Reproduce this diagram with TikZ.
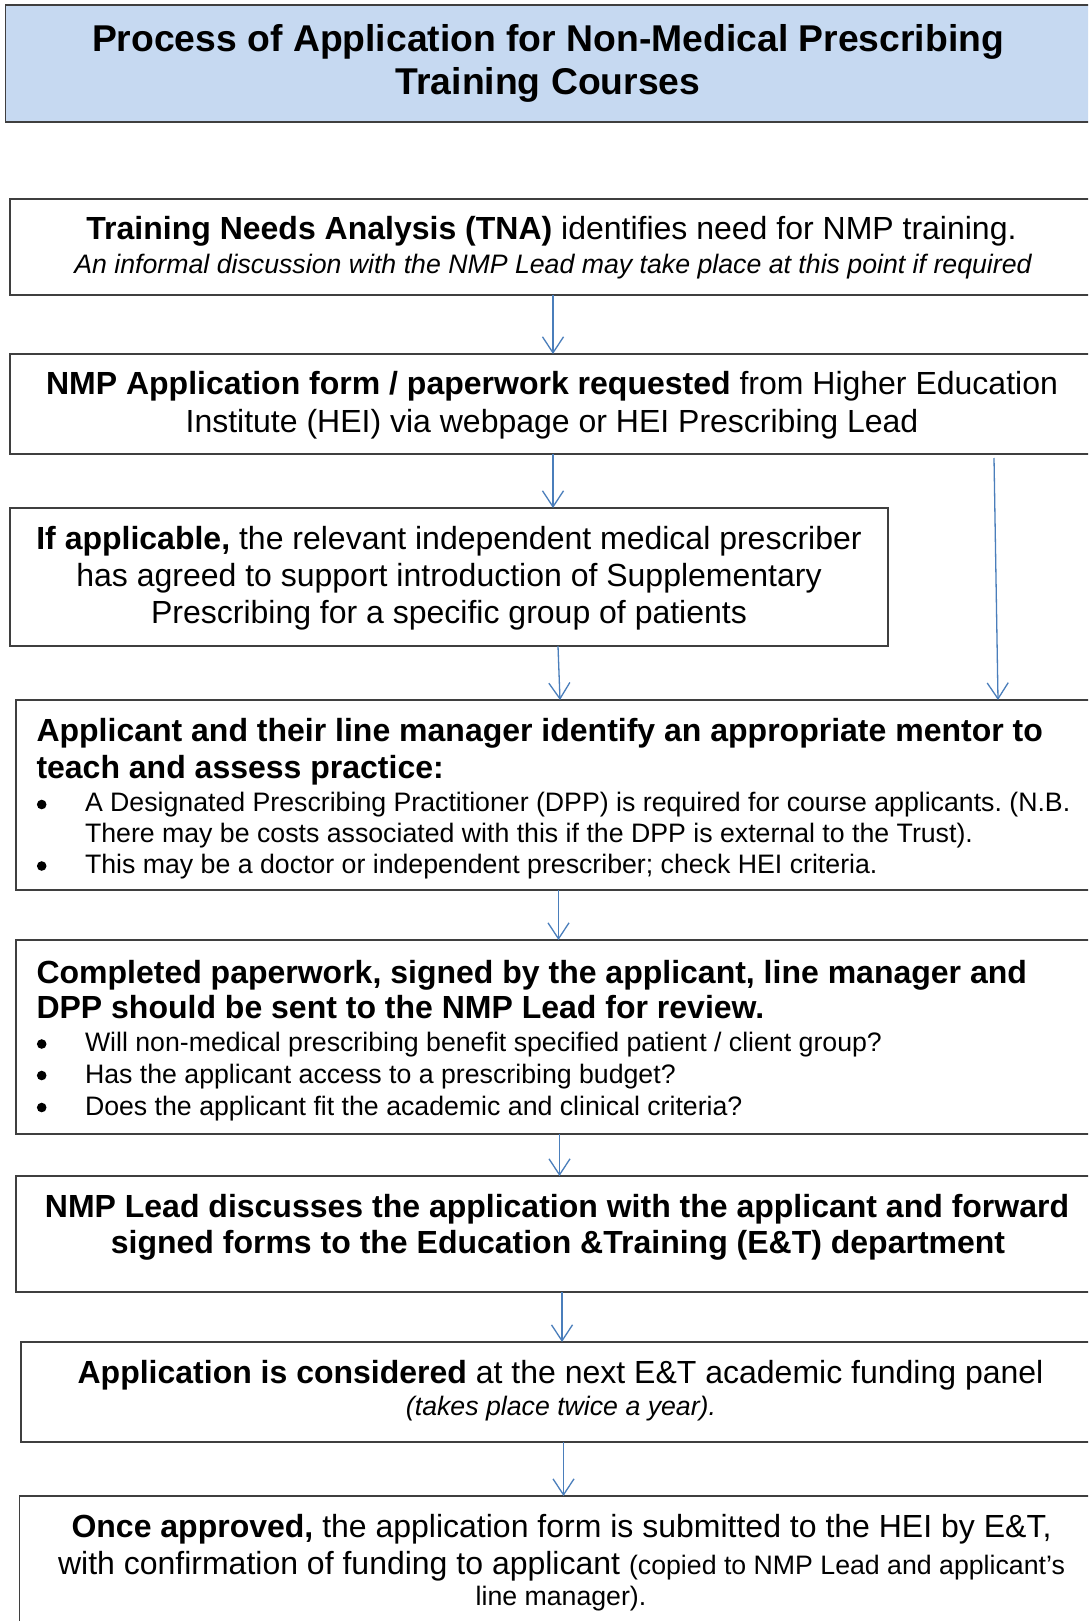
\documentclass[tikz,border=0pt]{standalone}
\usepackage{fontspec}
\setmainfont{Liberation Sans}
\usetikzlibrary{arrows.meta}
\definecolor{frame}{HTML}{3F3F3F}
\definecolor{headfill}{HTML}{C6D9F1}
\definecolor{flow}{HTML}{4A7EBB}
\frenchspacing
\begin{document}
\begin{tikzpicture}[x=1pt,y=-1pt,
  box/.style={draw=frame, line width=1.6pt, anchor=north west, inner sep=0pt, outer sep=0pt},
  arr/.style={draw=flow, line width=1.3pt,
    -{Straight Barb[length=16pt,width=21pt,line width=1.3pt]}},
  titlefont/.style={font=\fontsize{37.3}{42}\selectfont\bfseries},
  big/.style={font=\fontsize{32}{36.5}\selectfont},
  bigbold/.style={font=\fontsize{32}{36.5}\selectfont\bfseries},
  small/.style={font=\fontsize{26.7}{31}\selectfont},
  line/.style={anchor=base, inner sep=0pt, outer sep=0pt},
  lline/.style={anchor=base west, inner sep=0pt, outer sep=0pt},
  dot/.style={circle, fill=black, inner sep=0pt, minimum size=9.6pt},
]
\useasboundingbox (0,0) rectangle (1088,1621);
\fill[white] (0,0) rectangle (1088,1621);
\clip (0,0) rectangle (1088,1621);

% ---------- boxes ----------
\node[box, fill=headfill, minimum width=1094.5, minimum height=116.7] (title) at (5.5,5.3) {};
\node[box, minimum width=1090.3, minimum height=96]  (tna)      at (9.7,199) {};
\node[box, minimum width=1090,   minimum height=100] (nmp)      at (10,354) {};
\node[box, minimum width=878,    minimum height=138] (ifapp)    at (10,508) {};
\node[box, minimum width=1084.3, minimum height=190] (mentor)   at (15.7,700) {};
\node[box, minimum width=1084.3, minimum height=194] (review)   at (15.7,940) {};
\node[box, minimum width=1084.3, minimum height=116] (lead)     at (15.7,1176) {};
\node[box, minimum width=1079.3, minimum height=100] (panel)    at (20.7,1342) {};
\node[box, minimum width=1080.6, minimum height=150] (approved) at (19.4,1496) {};

% ---------- title ----------
\node[line, titlefont] (t1) at (548,52) {Process of Application for Non-Medical Prescribing};
\node[line, titlefont] (t2) at (548,95) {Training Courses};

% ---------- training needs analysis ----------
\node[line, big] (tna1) at (551.5,240) {\textbf{Training Needs Analysis (TNA)} identifies need for NMP training.};
\node[line, small] (tna2) at (553,273) {\itshape An informal discussion with the NMP Lead may take place at this point if required};

% ---------- application form ----------
\node[line, big] (nmp1) at (552,394) {\textbf{NMP Application form / paperwork requested} from Higher Education};
\node[line, big] (nmp2) at (552,432) {Institute (HEI) via webpage or HEI Prescribing Lead};

% ---------- supplementary prescribing ----------
\node[line, big] (if1) at (449,549) {\textbf{If applicable,} the relevant independent medical prescriber};
\node[line, big] (if2) at (449,586) {has agreed to support introduction of Supplementary};
\node[line, big] (if3) at (449,623) {Prescribing for a specific group of patients};

% ---------- mentor ----------
\node[lline, bigbold] (m1) at (36.5,741)
  {Applicant and their line manager identify an appropriate mentor to};
\node[lline, bigbold] (m2) at (36.5,778)
  {teach and assess practice:};
\node[dot] (mb1) at (41.7,804.5) {};
\node[lline, small] (m3) at (85,811) {A Designated Prescribing Practitioner (DPP) is required for course applicants. (N.B.};
\node[lline, small] (m4) at (85,842) {There may be costs associated with this if the DPP is external to the Trust).};
\node[dot] (mb2) at (41.7,866) {};
\node[lline, small] (m5) at (85,873) {This may be a doctor or independent prescriber; check HEI criteria.};

% ---------- review ----------
\node[lline, bigbold] (r1) at (36.5,983)
  {Completed paperwork, signed by the applicant, line manager and};
\node[lline, bigbold] (r2) at (36.5,1018)
  {DPP should be sent to the NMP Lead for review.};
\node[dot] (rb1) at (41.7,1044) {};
\node[lline, small] (r3) at (85,1051) {Will non-medical prescribing benefit specified patient / client group?};
\node[dot] (rb2) at (41.7,1075.5) {};
\node[lline, small] (r4) at (85,1083) {Has the applicant access to a prescribing budget?};
\node[dot] (rb3) at (41.7,1107.5) {};
\node[lline, small] (r5) at (85,1115) {Does the applicant fit the academic and clinical criteria?};

% ---------- NMP lead ----------
\node[line, bigbold] (l1) at (557,1217)
  {NMP Lead discusses the application with the applicant and forward};
\node[line, bigbold] (l2) at (558,1253)
  {signed forms to the Education \&Training (E\&T) department};

% ---------- funding panel ----------
\node[line, big] (p1) at (560.5,1383) {\textbf{Application is considered} at the next E\&T academic funding panel};
\node[line, small] (p2) at (561,1415) {\itshape (takes place twice a year).};

% ---------- approval ----------
\node[line, big] (a1) at (561.5,1537) {\textbf{Once approved,} the application form is submitted to the HEI by E\&T,};
\node[line] (a2) at (561.5,1574) {{\fontsize{32}{36.5}\selectfont with confirmation of funding to applicant }{\fontsize{26.7}{31}\selectfont(copied to NMP Lead and applicant’s}};
\node[line, small] (a3) at (561,1605) {line manager).};

% ---------- connectors ----------
\coordinate (c1) at (553,0);
\coordinate (c2e) at (998,0);
\coordinate (c3s) at (558,0);
\coordinate (c3e) at (560,0);
\coordinate (c4) at (558.5,0);
\coordinate (c5) at (559.5,0);
\coordinate (c6) at (562,0);
\coordinate (c7) at (563.5,0);
\coordinate (side) at (994,458);

\draw[arr] (tna.south -| c1) -- (nmp.north -| c1);
\draw[arr] (nmp.south -| c1) -- (ifapp.north -| c1);
\draw[arr] (side) -- (mentor.north -| c2e);
\draw[arr] (ifapp.south -| c3s) -- (mentor.north -| c3e);
\draw[arr] (mentor.south -| c4) -- (review.north -| c4);
\draw[arr] (review.south -| c5) -- (lead.north -| c5);
\draw[arr] (lead.south -| c6) -- (panel.north -| c6);
\draw[arr] (panel.south -| c7) -- (approved.north -| c7);
\end{tikzpicture}
\end{document}
